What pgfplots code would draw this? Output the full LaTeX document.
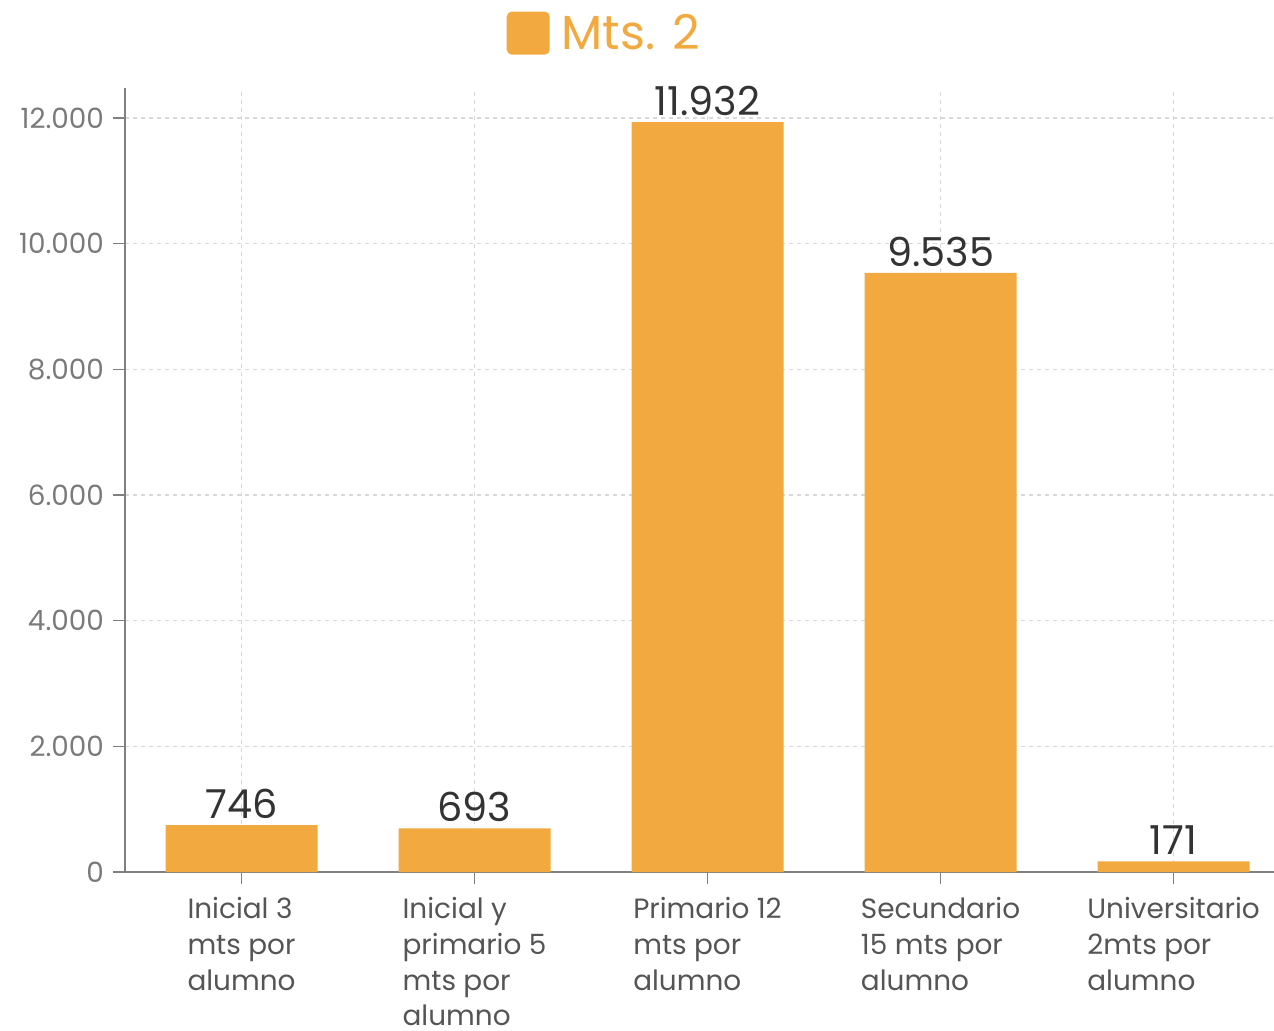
\documentclass[border=0pt]{standalone}
\usepackage{pgfplots}
\pgfplotsset{compat=1.18}
\usepackage{fontspec}
\setmainfont{Poppins}
\definecolor{barorange}{HTML}{F2A93F}
\definecolor{axisgray}{HTML}{808080}
\definecolor{gridgray}{HTML}{D8D8D8}
\definecolor{ticktext}{HTML}{7A7A7A}
\definecolor{cattext}{HTML}{555555}
\definecolor{valtext}{HTML}{333333}
\pgfkeys{/pgf/number format/.cd, 1000 sep={.}, assume math mode=true}
\begin{document}
\begin{tikzpicture}
\begin{axis}[
  scale only axis, width=574.5bp, height=392bp,
  xmin=-0.5, xmax=4.431, ymin=0, ymax=12477,
  scaled y ticks=false,
  axis lines=left,
  axis line style={-, draw=axisgray, line width=1bp},
  ybar, bar width=76bp, bar shift=0pt,
  xtick=data,
  xticklabels={
    {Inicial 3\\mts por\\alumno},
    {Inicial y\\primario 5\\mts por\\alumno},
    {Primario 12\\mts por\\alumno},
    {Secundario\\15 mts por\\alumno},
    {Universitario\\2mts por\\alumno}},
  ytick={0,2000,4000,6000,8000,10000,12000},
  tick align=outside, major tick length=6bp,
  tick style={draw=axisgray, line width=0.8bp},
  grid=major,
  major grid style={draw=gridgray, dash pattern=on 2bp off 2bp, line width=0.6bp},
  yticklabel style={font=\fontsize{14}{16}\selectfont, text=ticktext, xshift=-1bp},
  xticklabel style={font=\fontsize{14}{18}\selectfont, text=cattext, align=left, anchor=north, yshift=-3bp},
  nodes near coords,
  every node near coord/.append style={font=\fontsize{20}{24}\selectfont, text=valtext, anchor=south, inner sep=3bp},
  legend style={at={(rel axis cs:0.418,1.07)}, anchor=center, draw=none, fill=none,
    font=\fontsize{24}{28}\selectfont, text=barorange, column sep=0pt},
  legend image code/.code={\fill[barorange, rounded corners=2.5bp] (0bp,-10.75bp) rectangle (21.5bp,10.75bp);},
]
\addplot[fill=barorange, draw=none] coordinates {
  (0,746) (1,693) (2,11932) (3,9535) (4,171)
};
\addlegendentry{\hspace{4bp}Mts. 2}
\end{axis}
\pgfresetboundingbox
\path (current axis.south west) ++(-62.5bp,-79.5bp) rectangle ++(637bp,515.5bp);
\end{tikzpicture}
\end{document}
